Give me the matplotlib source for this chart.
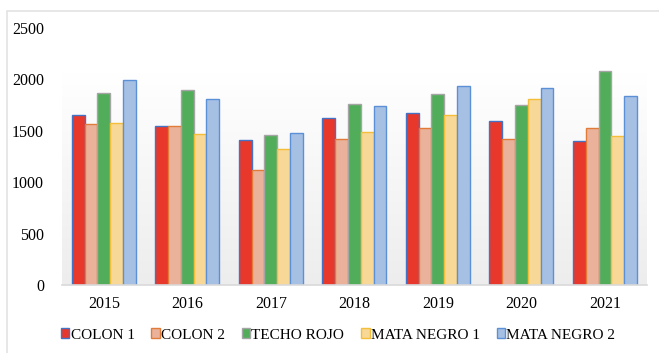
import matplotlib
matplotlib.use("Agg")
import matplotlib.pyplot as plt
import numpy as np
from matplotlib.patches import Rectangle
from matplotlib.colors import LinearSegmentedColormap

years = ["2015", "2016", "2017", "2018", "2019", "2020", "2021"]
series_names = ["COLON 1", "COLON 2", "TECHO ROJO", "MATA NEGRO 1", "MATA NEGRO 2"]
colon1 = [1650, 1547, 1414, 1621, 1676, 1595, 1401]
colon2 = [1563, 1547, 1123, 1424, 1531, 1424, 1531]
techo_rojo = [1871, 1900, 1456, 1757, 1858, 1748, 2081]
mata_negro1 = [1576, 1473, 1327, 1489, 1657, 1809, 1453]
mata_negro2 = [1990, 1806, 1476, 1738, 1932, 1913, 1842]
yticks = [0, 500, 1000, 1500, 2000, 2500]

series = [colon1, colon2, techo_rojo, mata_negro1, mata_negro2]
faces = ["#E8382B", "#EAB29B", "#52AD5B", "#F8D896", "#A6C0E4"]
edges = ["#4472C4", "#E07B39", "#A5A5A5", "#F4BE3A", "#5B8FD6"]

plt.rcParams['font.family'] = ['Liberation Serif', 'DejaVu Serif']

fig = plt.figure(figsize=(6.59, 3.53), dpi=100)
# outer light border
fig.patches.append(Rectangle((7/659, -0.2), 1.2, 1 - 11/353 + 0.2, transform=fig.transFigure,
                             fill=False, edgecolor="#E3E3E3", linewidth=1.2, zorder=0))

ax = fig.add_axes([62/659, 1 - 285/353, (646.7 - 62)/659, (285 - 28)/353])
ax.set_xlim(-0.5, 6.5)
ax.set_ylim(0, 2500)

# subtle gradient plot area
grad = np.linspace(0, 1, 256).reshape(-1, 1)
cmap = LinearSegmentedColormap.from_list("g", ["#EDEDED", "#FFFFFF"])
ax.imshow(grad, extent=(-0.5, 6.5, 0, 2060), origin="lower", aspect="auto", cmap=cmap, zorder=0)

x = np.arange(len(years))
w = 0.153
for i, (vals, name) in enumerate(zip(series, series_names)):
    ax.bar(x + (i - 2) * w, vals, width=w, color=faces[i], edgecolor=edges[i],
           linewidth=1.0, label=name, zorder=2)

ax.set_xticks(x)
ax.set_xticklabels(years, fontsize=11.5)
ax.set_yticks(yticks)
ax.set_yticklabels([str(v) for v in yticks], fontsize=11.5)
ax.tick_params(axis="both", length=0)
ax.tick_params(axis="y", pad=13)
ax.tick_params(axis="x", pad=8)
for s in ["left", "right", "top"]:
    ax.spines[s].set_visible(False)
ax.spines["bottom"].set_color("#D9D9D9")
ax.spines["bottom"].set_linewidth(1.2)
ax.spines["bottom"].set_zorder(3)

leg = fig.legend(loc="center", bbox_to_anchor=(0.513, 1 - 335/353), ncol=5, frameon=False,
                 fontsize=11, handlelength=0.55, handleheight=0.55, handletextpad=0.08,
                 columnspacing=1.1, borderaxespad=0)

fig.savefig("out.png", dpi=100)
